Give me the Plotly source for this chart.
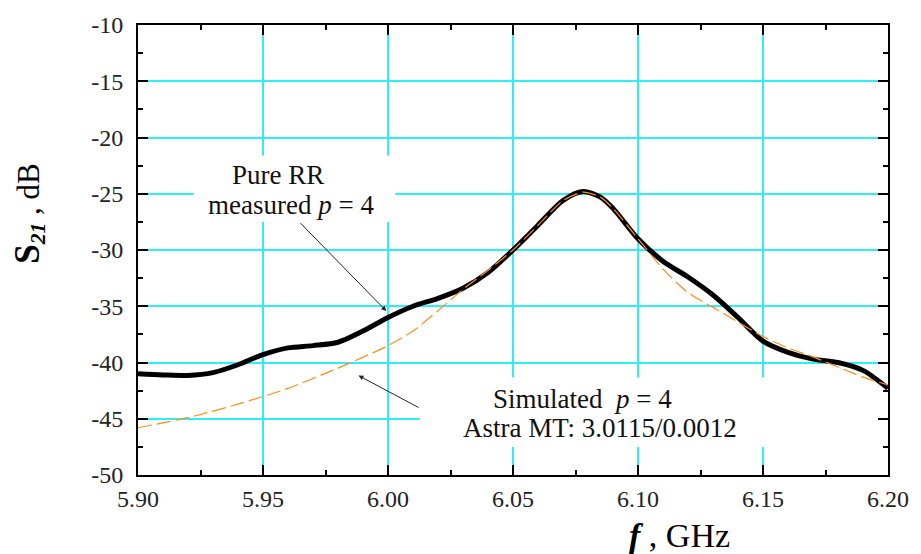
import plotly.graph_objects as go

# Measured transmission of the pure ring resonator (p = 4)
freq_meas = [5.90, 5.91, 5.92, 5.93, 5.94, 5.95, 5.96, 5.97, 5.98, 5.99,
             6.00, 6.01, 6.02, 6.03, 6.04, 6.05, 6.06, 6.07, 6.078, 6.085,
             6.09, 6.10, 6.11, 6.12, 6.13, 6.14, 6.15, 6.16, 6.17, 6.18,
             6.19, 6.20]
s21_meas = [-41.0, -41.1, -41.15, -40.9, -40.2, -39.3, -38.7, -38.5, -38.2, -37.2,
            -36.0, -35.0, -34.3, -33.4, -32.0, -30.0, -27.8, -25.6, -24.8, -25.3,
            -26.3, -29.0, -31.0, -32.4, -34.0, -36.0, -38.1, -39.1, -39.7, -40.0,
            -40.7, -42.3]

# Simulated response (Astra MT)
freq_sim = [5.90, 5.92, 5.94, 5.96, 5.98, 6.00, 6.01, 6.02, 6.03, 6.04,
            6.05, 6.06, 6.07, 6.078, 6.085, 6.09, 6.10, 6.11, 6.12, 6.13,
            6.14, 6.15, 6.16, 6.17, 6.18, 6.19, 6.20]
s21_sim = [-45.8, -44.9, -43.7, -42.3, -40.5, -38.5, -37.2, -35.4, -33.5, -31.8,
           -30.0, -27.8, -25.6, -24.85, -25.3, -26.3, -29.0, -31.7, -33.8, -35.1,
           -36.4, -37.7, -38.7, -39.5, -40.4, -41.3, -42.0]

x_ticks = [5.90, 5.95, 6.00, 6.05, 6.10, 6.15, 6.20]
y_ticks = [-50, -45, -40, -35, -30, -25, -20, -15, -10]

FONT = "Liberation Serif, Times New Roman, serif"
GRID = "#2ef0f4"

fig = go.Figure()
fig.add_trace(go.Scatter(
    x=freq_meas, y=s21_meas, mode="lines",
    line=dict(color="black", width=5, shape="spline", smoothing=0.8),
    showlegend=False))
fig.add_trace(go.Scatter(
    x=freq_sim, y=s21_sim, mode="lines",
    line=dict(color="#ff8c1a", width=1.2, dash="14px,5px", shape="spline", smoothing=0.6),
    showlegend=False))

axis_common = dict(
    showline=True, linecolor="black", linewidth=2, mirror="ticks",
    ticks="inside", ticklen=10, tickwidth=2, tickcolor="black",
    showgrid=True, gridcolor=GRID, gridwidth=1.5, zeroline=False,
    tickfont=dict(family=FONT, size=24, color="#222"),
)

fig.update_xaxes(
    range=[5.90, 6.20], tickvals=x_ticks,
    ticktext=[f"{v:.2f}" for v in x_ticks],
    minor=dict(dtick=0.025, ticks="inside", ticklen=5, tickwidth=2,
               tickcolor="black", showgrid=False),
    ticklabelstandoff=1, **axis_common)
fig.update_yaxes(
    range=[-50, -10], tickvals=y_ticks,
    ticktext=[f"{v:d}" for v in y_ticks],
    minor=dict(dtick=2.5, ticks="inside", ticklen=5, tickwidth=2,
               tickcolor="black", showgrid=False),
    ticklabelstandoff=8, **axis_common)

# White panels behind the two captions (over grid, under curves)
for x0, x1, y0, y1 in [(5.9222, 6.0029, -21.6, -27.5), (6.0128, 6.20, -41.34, -47.5)]:
    fig.add_shape(type="rect", xref="x", yref="y", x0=x0, x1=x1, y0=y0, y1=y1,
                  fillcolor="white", line=dict(width=0), layer="between")

caption_font = dict(family=FONT, size=27, color="#111")
captions = [
    (5.9560, -23.37, "Pure RR"),
    (5.9612, -26.01, "measured <i>p</i> = 4"),
    (6.0776, -43.28, "Simulated  <i>p</i> = 4"),
    (6.0847, -45.84, "Astra MT: 3.0115/0.0012"),
]
for cx, cy, txt in captions:
    fig.add_annotation(x=cx, y=cy, xref="x", yref="y", showarrow=False,
                       text=txt, font=caption_font)

# Pointer arrows
fig.add_annotation(x=5.9993, y=-35.42, ax=5.9644, ay=-27.48,
                   xref="x", yref="y", axref="x", ayref="y", text="",
                   showarrow=True, arrowhead=2, arrowsize=1, arrowwidth=1, arrowcolor="#222")
fig.add_annotation(x=5.9882, y=-41.16, ax=6.0128, ay=-44.07,
                   xref="x", yref="y", axref="x", ayref="y", text="",
                   showarrow=True, arrowhead=2, arrowsize=1, arrowwidth=1, arrowcolor="#222")

# Axis titles
fig.add_annotation(x=-0.1457, y=0.582, xref="paper", yref="paper", showarrow=False,
                   textangle=-90, xanchor="center", yanchor="middle",
                   text="<b><span style='font-size:35px'>S</span></b><sub><b><i>21</i></b></sub> , dB",
                   font=dict(family=FONT, size=31, color="black"))
fig.add_annotation(x=0.722, y=-0.179, xref="paper", yref="paper", showarrow=False,
                   xanchor="center", yanchor="bottom",
                   text="<b><i>f</i></b> , GHz",
                   font=dict(family=FONT, size=34, color="black"))

fig.update_layout(
    width=921, height=554,
    margin=dict(l=138, r=28, t=21, b=79),
    paper_bgcolor="white", plot_bgcolor="white",
    showlegend=False,
)

fig.write_html("out.html")
